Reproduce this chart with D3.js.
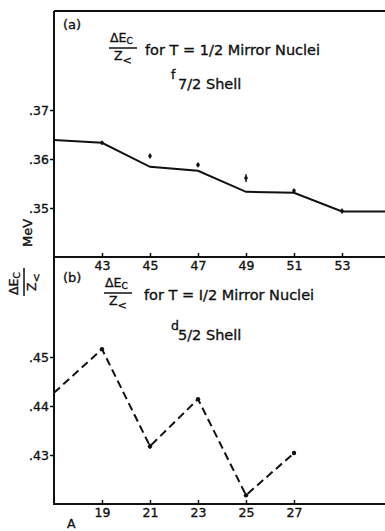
<!DOCTYPE html>
<html>
<head>
<meta charset="utf-8">
<script src="https://cdn.jsdelivr.net/npm/d3@7"></script>
<style>
  html, body { margin: 0; padding: 0; background: #fff; }
  svg { display: block; }
  text { font-family: "DejaVu Sans", "Liberation Sans", sans-serif; fill: #111; stroke: #111; stroke-width: 0.35px; }
</style>
</head>
<body>
<svg id="chart" width="385" height="531"></svg>
<script>
// (a) f7/2 shell: measured ΔEc/Z< with error bars, and the calculated curve
const massA = [43, 45, 47, 49, 51, 53];
const valueA = [0.3633, 0.3606, 0.3588, 0.3561, 0.3535, 0.3494];
const errorA = [0.0004, 0.0005, 0.0005, 0.0008, 0.0005, 0.0005];
const curveMassA = [41, 43, 45, 47, 49, 51, 53, 55];
const curveValueA = [0.3639, 0.3633, 0.3584, 0.3576, 0.3533, 0.3531, 0.3493, 0.3493];
const tickMassA = [43, 45, 47, 49, 51, 53];
const tickValueA = [0.35, 0.36, 0.37];

// (b) d5/2 shell: measured ΔEc/Z<, joined by a dashed line
const massB = [17, 19, 21, 23, 25, 27];
const valueB = [0.4427, 0.4516, 0.4318, 0.4414, 0.4218, 0.4304];
const dotMassB = [19, 21, 23, 25, 27];
const errorB = [0, 0, 0.0005, 0, 0, 0];
const tickMassB = [19, 21, 23, 25, 27];
const tickValueB = [0.43, 0.44, 0.45];

const svg = d3.select("#chart");
const left = 54, right = 390;

const xA = d3.scaleLinear().domain([41, 55]).range([left, right]);
const yA = d3.scaleLinear().domain([0.34, 0.39]).range([257, 12]);
const xB = d3.scaleLinear().domain([17, 31]).range([left, right]);
const yB = d3.scaleLinear().domain([0.42, 0.47]).range([504, 259]);

const fmt = d => d3.format(".2f")(d).replace(/^0/, "");

// frame: shared vertical axis and the top line
const frame = svg.append("g").attr("stroke", "#111").attr("stroke-width", 2).attr("fill", "none");
frame.append("line").attr("x1", left).attr("x2", left).attr("y1", yA.range()[1] - 1).attr("y2", yB.range()[0] + 1);
frame.append("line").attr("x1", left).attr("x2", 385).attr("y1", yA.range()[1] - 1).attr("y2", yA.range()[1] - 1);

function panel(x, y, xt, yt) {
  const g = svg.append("g");
  const xAxis = d3.axisBottom(x).tickValues(xt).tickSize(-4).tickPadding(3).tickFormat(d3.format("d"));
  const gx = g.append("g").attr("transform", `translate(0,${y.range()[0]})`).call(xAxis);
  gx.attr("font-family", null);
  gx.select(".domain").attr("d", `M${left},0H385`).attr("stroke", "#111").attr("stroke-width", 2);
  gx.selectAll(".tick line").attr("stroke", "#111").attr("stroke-width", 1.5);
  gx.selectAll(".tick text").attr("font-size", 12.5).attr("dy", "0.8em");
  const yAxis = d3.axisLeft(y).tickValues(yt).tickSize(4).tickPadding(1).tickFormat(fmt);
  const gy = g.append("g").attr("transform", `translate(${left},0)`).call(yAxis);
  gy.attr("font-family", null);
  gy.select(".domain").remove();
  gy.selectAll(".tick line").attr("stroke", "#111").attr("stroke-width", 1.5);
  gy.selectAll(".tick text").attr("font-size", 12.5);
  return g;
}

panel(xA, yA, tickMassA, tickValueA);
panel(xB, yB, tickMassB, tickValueB);

// (a) calculated curve
const lineA = d3.line().x((d, i) => xA(curveMassA[i])).y(d => yA(d));
svg.append("path").datum(curveValueA)
  .attr("d", lineA).attr("fill", "none").attr("stroke", "#111").attr("stroke-width", 2);

// (a) measured points with error bars
const ptsA = svg.append("g");
massA.forEach((m, i) => {
  ptsA.append("line").attr("x1", xA(m)).attr("x2", xA(m))
    .attr("y1", yA(valueA[i] - errorA[i])).attr("y2", yA(valueA[i] + errorA[i]))
    .attr("stroke", "#111").attr("stroke-width", 1.5);
  ptsA.append("circle").attr("cx", xA(m)).attr("cy", yA(valueA[i])).attr("r", 1.8).attr("fill", "#111");
});

// (b) dashed connecting line
const lineB = d3.line().x((d, i) => xB(massB[i])).y(d => yB(d));
svg.append("path").datum(valueB)
  .attr("d", lineB).attr("fill", "none").attr("stroke", "#111").attr("stroke-width", 2)
  .attr("stroke-dasharray", "8,4.5");

const ptsB = svg.append("g");
massB.forEach((m, i) => {
  if (!dotMassB.includes(m)) return;
  if (errorB[i] > 0) {
    ptsB.append("line").attr("x1", xB(m)).attr("x2", xB(m))
      .attr("y1", yB(valueB[i] - errorB[i])).attr("y2", yB(valueB[i] + errorB[i]))
      .attr("stroke", "#111").attr("stroke-width", 1.5);
  }
  ptsB.append("circle").attr("cx", xB(m)).attr("cy", yB(valueB[i])).attr("r", 2.2).attr("fill", "#111");
});

// fraction ΔEc / Z<
function fraction(g, x, y) {
  const num = g.append("text").attr("x", x).attr("y", y).attr("font-size", 12.5);
  num.append("tspan").text("ΔE");
  num.append("tspan").attr("font-size", 9).attr("dy", 2).text("C");
  g.append("line").attr("x1", x - 1).attr("x2", x + 27).attr("y1", y + 6).attr("y2", y + 6)
    .attr("stroke", "#111").attr("stroke-width", 1.5);
  const den = g.append("text").attr("x", x + 4).attr("y", y + 18).attr("font-size", 12.5);
  den.append("tspan").text("Z");
  den.append("tspan").attr("font-size", 11).attr("dy", 4).text("<");
}

function titles(g, label, labelY, x0, y0, shellLetter, letterY, shellSub, subY, tSymbol, forX) {
  g.append("text").attr("x", 63).attr("y", labelY).attr("font-size", 13).text(label);
  fraction(g, x0, y0);
  g.append("text").attr("x", forX).attr("y", y0 + 13).attr("font-size", 14.5)
    .text(`for T = ${tSymbol}/2 Mirror Nuclei`);
  g.append("text").attr("x", 171).attr("y", letterY).attr("font-size", 12.5).text(shellLetter);
  g.append("text").attr("x", 178).attr("y", subY).attr("font-size", 14.5).text(shellSub);
}

titles(svg.append("g"), "(a)", 29, 110, 42, "f", 79, "7/2  Shell", 89, "1", 145);
titles(svg.append("g"), "(b)", 282, 105, 287, "d", 330, "5/2  Shell", 340, "I", 144);

// vertical axis title: ΔEc/Z< MeV
const ytf = svg.append("g").attr("transform", "translate(18,295) rotate(-90)");
fraction(ytf, 0, 0);
svg.append("text").attr("transform", "translate(32,233) rotate(-90)").attr("text-anchor", "middle")
  .attr("font-size", 13).text("MeV");

// x axis title
svg.append("text").attr("x", 67).attr("y", 528).attr("font-size", 12.5).text("A");
</script>
</body>
</html>
